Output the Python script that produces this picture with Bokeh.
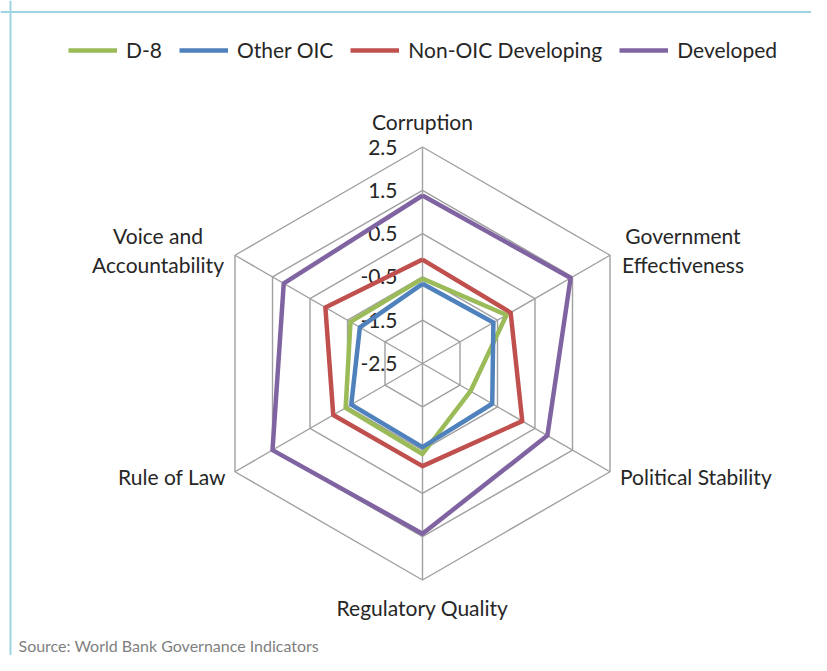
import numpy as np
from bokeh.plotting import figure
from bokeh.models import Range1d, Legend, LegendItem, Span
from bokeh.core.properties import value
from bokeh.embed import file_html
from bokeh.resources import INLINE

# ---- data ----
categories = ["Corruption", "Government Effectiveness", "Political Stability",
              "Regulatory Quality", "Rule of Law", "Voice and Accountability"]
cat_labels = ["Corruption", "Government\nEffectiveness", "Political Stability",
              "Regulatory Quality", "Rule of Law", "Voice and\nAccountability"]
d8 = [-0.54, -0.26, -1.22, -0.41, -0.45, -0.58]
other_oic = [-0.66, -0.61, -0.64, -0.57, -0.60, -0.83]
non_oic_dev = [-0.10, -0.15, 0.16, -0.13, -0.12, 0.09]
developed = [1.38, 1.45, 0.83, 1.43, 1.50, 1.20]
series_names = ["D-8", "Other OIC", "Non-OIC Developing", "Developed"]
series_colors = ["#9BBB59", "#4F81BD", "#C0504D", "#8064A2"]
tick_values = [-2.5, -1.5, -0.5, 0.5, 1.5, 2.5]
tick_labels = ["-2.5", "-1.5", "-0.5", "0.5", "1.5", "2.5"]
axis_min = -2.5
source_note = "Source: World Bank Governance Indicators"

# ---- layout ----
W, H = 811, 655
S = 43.3            # px per unit
CX, CY = 422, 363   # canvas px of centre
x0, x1 = -CX / S, (W - CX) / S
y0, y1 = -(H - CY) / S, CY / S

p = figure(width=W, height=H, output_backend="svg", toolbar_location=None,
           x_range=Range1d(x0, x1), y_range=Range1d(y0, y1),
           min_border=0)
p.axis.visible = False
p.grid.visible = False
p.outline_line_color = None
p.background_fill_color = "white"

n = len(categories)
ang = np.deg2rad(90 - 60 * np.arange(n))

def to_xy(vals):
    r = np.array(vals) - axis_min
    xs = r * np.cos(ang)
    ys = r * np.sin(ang)
    return list(xs) + [xs[0]], list(ys) + [ys[0]]

grid_col = "#a0a0a0"
# rings
for tv in tick_values[1:]:
    xs, ys = to_xy([tv] * n)
    p.line(xs, ys, line_color=grid_col, line_width=1.4)
# spokes
rmax = tick_values[-1] - axis_min
for a in ang:
    p.line([0, rmax * np.cos(a)], [0, rmax * np.sin(a)], line_color=grid_col, line_width=1.4)

font = value("Lato")
txt_col = "#262626"
# tick labels
p.text(x=[0] * len(tick_values), y=[t - axis_min for t in tick_values], text=tick_labels,
       text_font=font, text_font_size="21px", text_color=txt_col,
       text_align="right", text_baseline="middle", x_offset=-25)

# category labels
lx = [rmax * np.cos(a) for a in ang]
ly = [rmax * np.sin(a) for a in ang]
x_offs = [0, 73, 10, 0, -9, -77]
y_offs = [-26, -5, 5, 27, 5, -5]
aligns = ["center", "center", "left", "center", "right", "center"]
for i in range(n):
    p.text(x=[lx[i]], y=[ly[i]], text=[cat_labels[i]], text_font=font,
           text_font_size="21px", text_color=txt_col, text_align=aligns[i],
           text_baseline="middle", x_offset=x_offs[i], y_offset=y_offs[i],
           text_line_height=1.15)

# series
renderers = []
for vals, col in zip([d8, other_oic, non_oic_dev, developed], series_colors):
    xs, ys = to_xy(vals)
    r = p.line(xs, ys, line_color=col, line_width=4.5, line_join="round")
    renderers.append(r)

legend = Legend(items=[LegendItem(label=nm, renderers=[r]) for nm, r in zip(series_names, renderers)],
                orientation="horizontal", location=(68, 593), glyph_width=49, glyph_height=20,
                label_height=20, label_standoff=9, spacing=17, padding=0, margin=0,
                label_text_font="Lato", label_text_font_size="21px", label_text_color=txt_col,
                border_line_color=None, background_fill_alpha=0)
p.add_layout(legend, "center")

# source note
p.text(x=[x0 + 18 / S], y=[y0 + 20 / S], text=[source_note], text_font=font,
       text_font_size="16px", text_color="#7f7f7f", text_align="left", text_baseline="top")

# chart border (left and top edges visible)
p.add_layout(Span(location=x0 + 10 / S, dimension="height", line_color="#9fd4e3", line_width=2))
p.add_layout(Span(location=y1 - 11.5 / S, dimension="width", line_color="#9fd4e3", line_width=2))

open("out.html", "w").write(file_html(p, INLINE))
